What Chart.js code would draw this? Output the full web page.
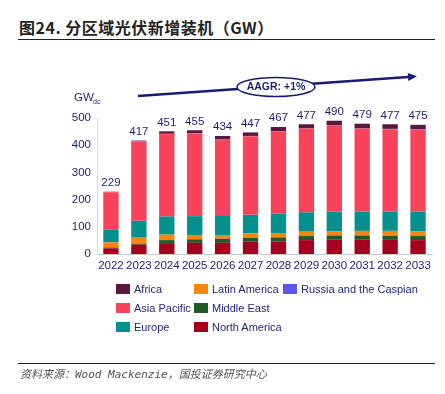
<!DOCTYPE html>
<html>
<head>
<meta charset="utf-8">
<script src="https://cdn.jsdelivr.net/npm/chart.js@4"></script>
<style>
  body { margin: 0; background: #fff; }
  #wrap { position: relative; width: 445px; height: 394px; overflow: hidden; }
  #title { position: absolute; left: 19px; top: 15px; font: bold 16px "Noto Sans CJK SC", sans-serif; color: #222; letter-spacing: 0.5px; }
  .rule { position: absolute; left: 18px; width: 417px; height: 0; border-top: 1.5px solid #222; }
  #chartBox { position: absolute; left: 0; top: 0; width: 445px; height: 394px; }
  #legend { position: absolute; left: 0; top: 0; }
  .item { position: absolute; font: 11px "Liberation Sans", Arial, sans-serif; color: #26267a; white-space: nowrap; }
  .item i { position: absolute; left: 0; top: 1px; width: 14px; height: 10px; }
  .item span { position: absolute; left: 18px; top: 0; }
  #source { position: absolute; left: 20px; top: 365px; font: italic 11px "DejaVu Sans Mono", "Noto Sans CJK SC", monospace; color: #555; }
</style>
</head>
<body>
<div id="wrap">
  <div id="title">图24. 分区域光伏新增装机（GW）</div>
  <div class="rule" style="top:39px"></div>
  <div id="chartBox"><canvas id="grafico"></canvas></div>
  <div id="legend"></div>
  <div class="rule" style="top:363px"></div>
  <div id="source">资料来源：Wood Mackenzie，国投证券研究中心</div>
</div>
<script>
// Dados =====================================================================

const anos = ["2022", "2023", "2024", "2025", "2026", "2027", "2028", "2029", "2030", "2031", "2032", "2033"];
const totais = [229, 417, 451, 455, 434, 447, 467, 477, 490, 479, 477, 475];

const northAmerica = [21, 34, 40, 41, 41, 45, 46, 51, 54, 54, 52, 51];
const middleEast = [3, 4, 11, 13, 15, 15, 15, 15, 14, 14, 15, 15];
const latinAmerica = [19, 22, 20, 16, 14, 16, 16, 16, 16, 17, 18, 18];
const europe = [46, 62, 67, 69, 70, 68, 71, 71, 71, 71, 71, 72];
const asiaPacific = [138, 291, 303, 304, 280, 289, 303, 308, 317, 305, 303, 301];
const russiaCaspian = [1, 1, 1, 1, 1, 1, 1, 1, 1, 1, 1, 1];
const africa = [1, 3, 9, 11, 13, 13, 15, 15, 17, 17, 17, 17];

const yTicks = [0, 100, 200, 300, 400, 500];
const crescimento = "AAGR: +1%";

// Séries (ordem de empilhamento, de baixo para cima) ========================

const series = [
  { label: "North America", data: northAmerica, cor: "#a6001f" },
  { label: "Middle East", data: middleEast, cor: "#215a29" },
  { label: "Latin America", data: latinAmerica, cor: "#f7870b" },
  { label: "Europe", data: europe, cor: "#03908f" },
  { label: "Asia Pacific", data: asiaPacific, cor: "#f9435a" },
  { label: "Russia and the Caspian", data: russiaCaspian, cor: "#5a5ae0" },
  { label: "Africa", data: africa, cor: "#5a1840" },
];

// legenda em 3 colunas, como no original
const ordemLegenda = [
  ["Africa", "Asia Pacific", "Europe"],
  ["Latin America", "Middle East", "North America"],
  ["Russia and the Caspian"],
];

const navy = "#1f1f70";

const data = {
  labels: anos,
  datasets: series.map((s) => ({
    label: s.label,
    data: s.data,
    backgroundColor: s.cor,
    borderWidth: 0,
    barPercentage: 0.55,
    categoryPercentage: 1,
    stack: "total",
  })),
};

// rótulos dos totais + seta AAGR
const extras = {
  id: "extras",
  afterDatasetsDraw(chart) {
    const ctx = chart.ctx;
    const x = chart.scales.x;
    const y = chart.scales.y;
    ctx.save();
    ctx.fillStyle = navy;
    ctx.font = "11.5px 'Liberation Sans', Arial, sans-serif";
    ctx.textAlign = "center";
    ctx.textBaseline = "bottom";
    totais.forEach((t, i) => {
      ctx.fillText(String(t), x.getPixelForValue(i), y.getPixelForValue(t) - 3);
    });

    // GWdc
    ctx.textAlign = "left";
    ctx.textBaseline = "alphabetic";
    ctx.font = "11.5px 'Liberation Sans', Arial, sans-serif";
    ctx.fillText("GW", 74, 101);
    ctx.font = "7px 'Liberation Sans', Arial, sans-serif";
    ctx.fillText("dc", 93, 104);

    // seta
    const x0 = 138, y0 = 96, x1 = 408, y1 = 77;
    ctx.strokeStyle = "#1a1a78";
    ctx.lineWidth = 2.5;
    ctx.beginPath();
    ctx.moveTo(x0, y0);
    ctx.lineTo(x1, y1);
    ctx.stroke();
    const ang = Math.atan2(y1 - y0, x1 - x0);
    ctx.fillStyle = "#1a1a78";
    ctx.beginPath();
    ctx.moveTo(x1 + 9 * Math.cos(ang), y1 + 9 * Math.sin(ang));
    ctx.lineTo(x1 - 4 * Math.sin(ang), y1 + 4 * Math.cos(ang));
    ctx.lineTo(x1 + 4 * Math.sin(ang), y1 - 4 * Math.cos(ang));
    ctx.closePath();
    ctx.fill();

    // elipse
    ctx.beginPath();
    ctx.ellipse(276, 87, 39, 9.5, 0, 0, Math.PI * 2);
    ctx.fillStyle = "#fff";
    ctx.fill();
    ctx.lineWidth = 1.5;
    ctx.strokeStyle = "#1a1a78";
    ctx.stroke();
    ctx.fillStyle = navy;
    ctx.font = "bold 10.5px 'Liberation Sans', Arial, sans-serif";
    ctx.textAlign = "center";
    ctx.textBaseline = "middle";
    ctx.fillText(crescimento, 276, 87.5);
    ctx.restore();
  },
};

const config = {
  type: "bar",
  data: data,
  plugins: [extras],
  options: {
    responsive: false,
    animation: false,
    layout: { padding: { top: 118, left: 57, right: 13, bottom: 120 } },
    plugins: { legend: { display: false }, tooltip: { enabled: false } },
    scales: {
      x: {
        stacked: true,
        grid: { display: false, drawTicks: false },
        border: { color: "#c8c8d0", width: 1 },
        ticks: { color: navy, font: { family: "Liberation Sans", size: 11.5 }, padding: 5, maxRotation: 0, autoSkip: false },
        afterFit: (s) => { s.height = 20; },
      },
      y: {
        stacked: true,
        min: 0,
        max: 500,
        afterBuildTicks: (s) => { s.ticks = yTicks.map((v) => ({ value: v })); },
        grid: { display: false, drawTicks: false },
        border: { color: "#d8d8e0", width: 1 },
        ticks: { color: navy, font: { family: "Liberation Sans", size: 11.5 }, padding: 6 },
        afterFit: (s) => { s.width = 40; },
      },
    },
  },
};

const canvas = document.getElementById("grafico");
canvas.width = 445;
canvas.height = 394;
const grafico = new Chart(canvas, config);

// legenda HTML ==============================================================

const leg = document.getElementById("legend");
const colX = [116, 194, 283];
const rowY = [283, 302, 321];
ordemLegenda.forEach((col, c) => {
  col.forEach((nome, r) => {
    const s = series.find((d) => d.label === nome);
    const el = document.createElement("div");
    el.className = "item";
    el.style.left = colX[c] + "px";
    el.style.top = rowY[r] + "px";
    el.innerHTML = '<i style="background:' + s.cor + '"></i><span>' + nome + "</span>";
    leg.appendChild(el);
  });
});
</script>
</body>
</html>
